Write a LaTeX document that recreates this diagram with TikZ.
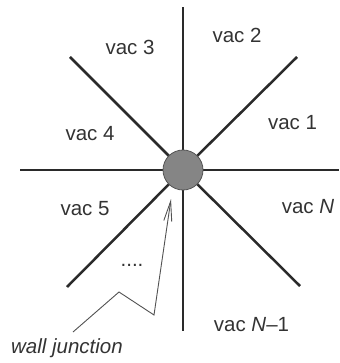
\documentclass[tikz,border=0pt]{standalone}
\usepackage{fontspec}
\setmainfont{Liberation Sans}
\usetikzlibrary{arrows.meta}
\definecolor{linec}{HTML}{2A2A2A}
\definecolor{textc}{HTML}{333333}
\definecolor{junc}{HTML}{858585}
\begin{document}
\begin{tikzpicture}[x=1pt,y=-1pt,
  wall/.style={draw=linec,line width=2.5pt},
  lab/.style={inner sep=0pt,text=textc,font=\fontsize{20.5}{24}\selectfont},
  pointer/.style={draw=textc!85,line width=0.9pt,-{Straight Barb[length=20pt,width=8pt,line width=0.9pt]}}]
\useasboundingbox (0,0) rectangle (339,363);
% wall ends
\coordinate (c) at (183,170);
\coordinate (eN) at (183,7);
\coordinate (eS) at (183,331);
\coordinate (eE) at (339,170);
\coordinate (eW) at (20,170);
\coordinate (eNE) at (297,57);
\coordinate (eNW) at (70,57);
\coordinate (eSE) at (300,286);
\coordinate (eSW) at (67,287);
\foreach \e in {eN,eS,eE,eW,eNE,eNW,eSE,eSW} \draw[wall] (c) -- (\e);
\node[circle,draw=linec!80,line width=0.8pt,fill=junc,minimum size=40pt,inner sep=0pt] (j) at (c) {};
% labels
\node[lab] (v1) at (292.5,123) {vac 1};
\node[lab] (v2) at (237,35) {vac 2};
\node[lab] (v3) at (130,47) {vac 3};
\node[lab] (v4) at (90,134) {vac 4};
\node[lab] (v5) at (85,209) {vac 5};
\node[lab] (vN) at (308,207) {vac \textit{N}};
\node[lab] (vN1) at (251.5,325) {vac \textit{N}–1};
\node[lab] (dots) at (132,265) {....};
\node[lab,font=\fontsize{20.5}{24}\selectfont\itshape] (wj) at (67,348) {wall junction};
% pointer
\coordinate (p0) at (73,332);
\coordinate (p1) at (119,292);
\coordinate (p2) at (154,315);
\coordinate (tip) at (171,199);
\draw[pointer] (p0) -- (p1) -- (p2) -- (tip);
\end{tikzpicture}
\end{document}
